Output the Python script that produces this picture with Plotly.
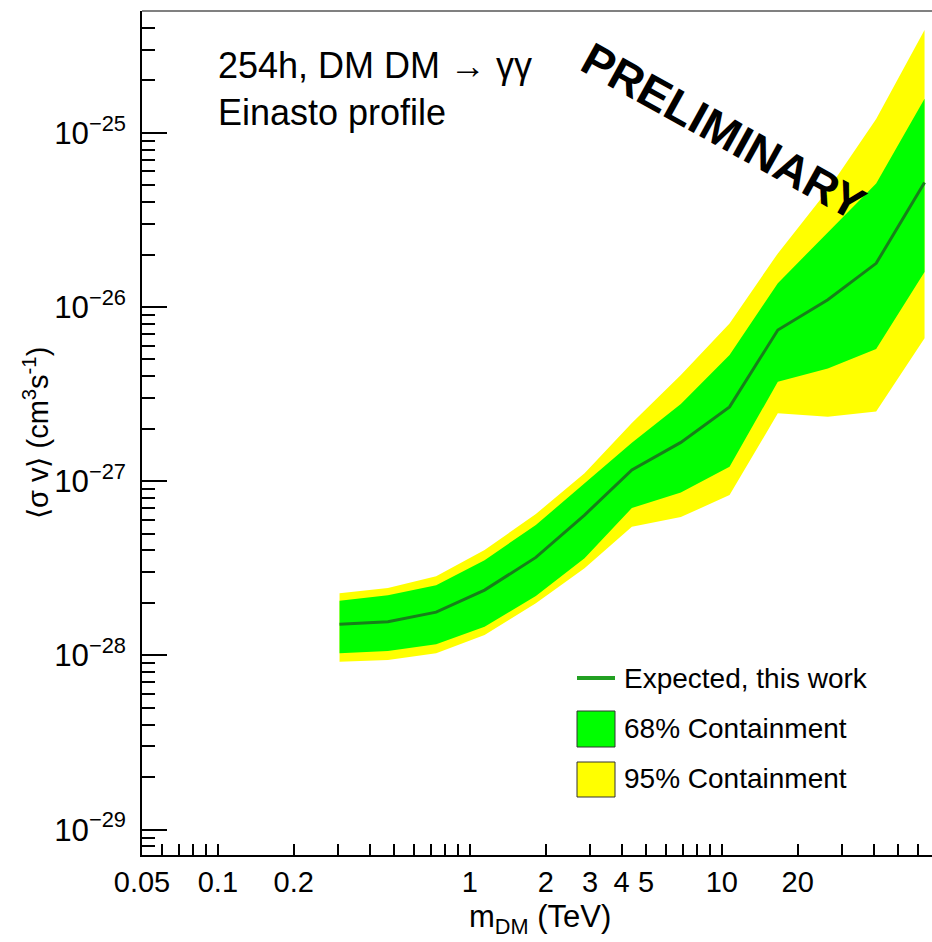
import math
import plotly.graph_objects as go

# ---------------- data ----------------
mass_tev = [0.304, 0.473, 0.735, 1.144, 1.828, 2.852, 4.395, 6.876, 10.73, 16.68, 26.34, 40.96, 63.74]
expected = [1.51e-28, 1.56e-28, 1.77e-28, 2.37e-28, 3.65e-28, 6.39e-28, 1.16e-27,
            1.67e-27, 2.67e-27, 7.37e-27, 1.10e-26, 1.78e-26, 5.18e-26]
c68_hi = [2.06e-28, 2.21e-28, 2.53e-28, 3.52e-28, 5.60e-28, 9.75e-28, 1.66e-27,
          2.77e-27, 5.30e-27, 1.37e-26, 2.66e-26, 5.12e-26, 1.57e-25]
c68_lo = [1.03e-28, 1.06e-28, 1.16e-28, 1.46e-28, 2.19e-28, 3.61e-28, 7.01e-28,
          8.60e-28, 1.21e-27, 3.72e-27, 4.44e-27, 5.73e-27, 1.59e-26]
c95_hi = [2.27e-28, 2.44e-28, 2.85e-28, 4.02e-28, 6.48e-28, 1.11e-27, 2.16e-27,
          4.07e-27, 8.05e-27, 2.03e-26, 4.69e-26, 1.20e-25, 3.89e-25]
c95_lo = [9.2e-29, 9.4e-29, 1.03e-28, 1.31e-28, 1.99e-28, 3.16e-28, 5.47e-28,
          6.22e-28, 8.32e-28, 2.45e-27, 2.34e-27, 2.51e-27, 6.61e-27]

x_tick_vals = [0.05, 0.1, 0.2, 1, 2, 3, 4, 5, 10, 20]
x_tick_text = ["0.05", "0.1", "0.2", "1", "2", "3", "4", "5", "10", "20"]
x_decades = [0.1, 1, 10]

legend_labels = ["Expected, this work", "68% Containment", "95% Containment"]

# ---------------- layout geometry (pixels) ----------------
W, H = 932, 942
L, R, T, B = 142, 932, 11, 855
FONT = "Liberation Sans, Arial, Helvetica, sans-serif"
GREEN = "#00ff00"
YELLOW = "#ffff00"
LINE_GREEN = "#17801a"

def px(xp):
    return (xp - L) / (R - L)

def py(yp):
    return (B - yp) / (B - T)

x_range = [math.log10(0.05), 1.834]
y_range = [-29.146, -24.301]

fig = go.Figure()

fig.add_trace(go.Scatter(
    x=mass_tev + mass_tev[::-1], y=c95_hi + c95_lo[::-1],
    fill="toself", fillcolor=YELLOW, line=dict(width=0, color=YELLOW),
    mode="lines", name="95% Containment", showlegend=False, hoverinfo="skip"))
fig.add_trace(go.Scatter(
    x=mass_tev + mass_tev[::-1], y=c68_hi + c68_lo[::-1],
    fill="toself", fillcolor=GREEN, line=dict(width=0, color=GREEN),
    mode="lines", name="68% Containment", showlegend=False, hoverinfo="skip"))
fig.add_trace(go.Scatter(
    x=mass_tev, y=expected, mode="lines",
    line=dict(color=LINE_GREEN, width=3), name="Expected, this work",
    showlegend=False))

minor_x = [m * 10.0 ** e for e in range(-2, 2) for m in range(1, 10)]

fig.update_layout(
    width=W, height=H,
    margin=dict(l=L, r=W - R, t=T, b=H - B),
    paper_bgcolor="white", plot_bgcolor="white",
    font=dict(family=FONT, color="black"),
    showlegend=False,
    xaxis=dict(
        type="log", range=x_range, tickmode="array",
        tickvals=x_tick_vals, ticktext=x_tick_text,
        ticks="inside", ticklen=11, tickwidth=1.5, tickcolor="black",
        minor=dict(tickmode="array", tickvals=minor_x, ticks="inside",
                   ticklen=11, tickwidth=1.5, tickcolor="black", showgrid=False),
        showline=True, linecolor="black", linewidth=2,
        showgrid=False, zeroline=False,
        tickfont=dict(size=29, family=FONT, color="black"),
        ticklabelstandoff=0,
    ),
    xaxis2=dict(
        type="log", range=x_range, overlaying="x", anchor="y", side="bottom",
        tickmode="array", tickvals=x_decades, showticklabels=False,
        ticks="inside", ticklen=23, tickwidth=1.5, tickcolor="black",
        showline=False, showgrid=False, zeroline=False,
    ),
    yaxis=dict(
        type="log", range=y_range, dtick=1, exponentformat="power",
        showexponent="all",
        ticks="inside", ticklen=25, tickwidth=1.5, tickcolor="black",
        minor=dict(dtick="D1", ticks="inside", ticklen=13, tickwidth=1.5,
                   tickcolor="black", showgrid=False),
        showline=True, linecolor="black", linewidth=2,
        showgrid=False, zeroline=False,
        tickfont=dict(size=25, family=FONT, color="black"),
        ticklabelstandoff=9,
    ),
)

shapes = [
    # top frame
    dict(type="line", xref="paper", yref="paper", x0=0, x1=1, y0=1, y1=1,
         line=dict(color="#808080", width=2)),
    # legend line sample
    dict(type="line", xref="paper", yref="paper", x0=px(577), x1=px(615),
         y0=py(678), y1=py(678), line=dict(color="#22a022", width=4)),
    # legend 68% box
    dict(type="rect", xref="paper", yref="paper", x0=px(577), x1=px(615),
         y0=py(747), y1=py(711), fillcolor=GREEN, line=dict(color="#333333", width=1)),
    # legend 95% box
    dict(type="rect", xref="paper", yref="paper", x0=px(577), x1=px(615),
         y0=py(797), y1=py(762), fillcolor=YELLOW, line=dict(color="#333333", width=1)),
]
fig.update_layout(shapes=shapes)

ann = []
for lab, yc in zip(legend_labels, [678, 728, 778]):
    ann.append(dict(text=lab, xref="paper", yref="paper", x=px(622), y=py(yc),
                    xanchor="left", yanchor="middle", showarrow=False,
                    font=dict(size=28, family=FONT, color="black")))
ann += [
    dict(text="254h, DM DM \u2192 \u03b3\u03b3", xref="paper", yref="paper",
         x=px(216), y=py(65), xanchor="left", yanchor="middle", showarrow=False,
         font=dict(size=36, family=FONT, color="black")),
    dict(text="Einasto profile", xref="paper", yref="paper",
         x=px(216), y=py(113), xanchor="left", yanchor="middle", showarrow=False,
         font=dict(size=36, family=FONT, color="black")),
    dict(text="<b>PRELIMINARY</b>", xref="paper", yref="paper",
         x=px(723), y=py(131), xanchor="center", yanchor="middle", showarrow=False,
         textangle=29, font=dict(size=46, family=FONT, color="black")),
    dict(text="m<sub>DM</sub> (TeV)", xref="paper", yref="paper",
         x=px(540), y=py(919), xanchor="center", yanchor="middle", showarrow=False,
         font=dict(size=31, family=FONT, color="black")),
    dict(text="\u27e8\u03c3 v\u27e9 (cm<sup>3</sup>s<sup>-1</sup>)", xref="paper", yref="paper",
         x=px(36), y=py(433), xanchor="center", yanchor="middle", showarrow=False,
         textangle=-90, font=dict(size=29, family=FONT, color="black")),
]
fig.update_layout(annotations=ann)

fig.write_html(
    "out.html",
    config={"displayModeBar": False},
    post_script="document.body.style.margin='0px';document.body.style.overflow='hidden';",
)
